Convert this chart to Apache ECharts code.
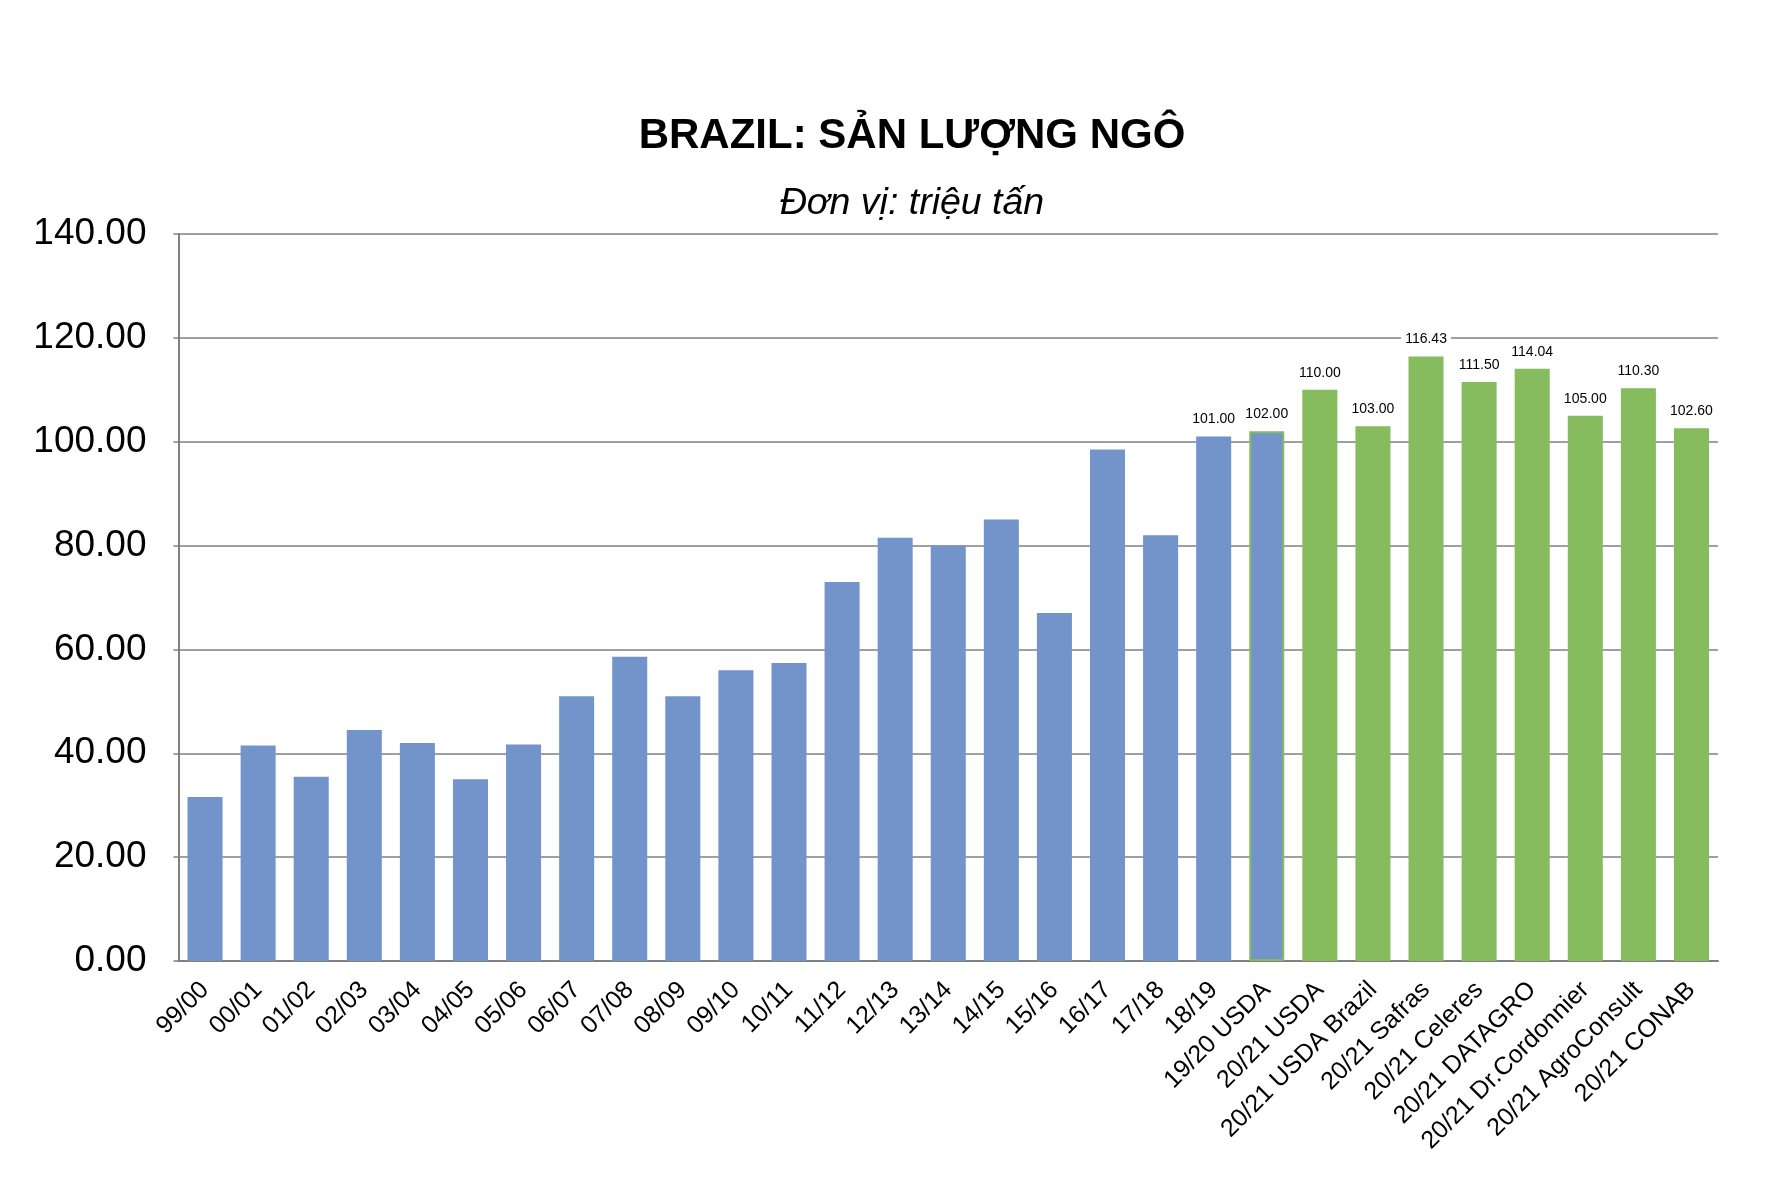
<!DOCTYPE html>
<html>
<head>
<meta charset="utf-8">
<script src="https://cdn.jsdelivr.net/npm/echarts@6/dist/echarts.min.js"></script>
<style>html,body{margin:0;padding:0;background:#fff}#c{width:1771px;height:1181px}</style>
</head>
<body>
<div id="c"></div>
<script>
const categories = ["99/00","00/01","01/02","02/03","03/04","04/05","05/06","06/07","07/08","08/09","09/10","10/11","11/12","12/13","13/14","14/15","15/16","16/17","17/18","18/19","19/20 USDA","20/21 USDA","20/21 USDA Brazil","20/21 Safras","20/21 Celeres","20/21 DATAGRO","20/21 Dr.Cordonnier","20/21 AgroConsult","20/21 CONAB"];
const values = [31.6,41.5,35.5,44.5,42.0,35.0,41.7,51.0,58.6,51.0,56.0,57.4,73.0,81.5,80.0,85.0,67.0,98.5,82.0,101.0,102.0,110.0,103.0,116.43,111.5,114.04,105.0,110.3,102.6];
const groups = ["h","h","h","h","h","h","h","h","h","h","h","h","h","h","h","h","h","h","h","h","u","f","f","f","f","f","f","f","f"];
const labelled = [0,0,0,0,0,0,0,0,0,0,0,0,0,0,0,0,0,0,0,1,1,1,1,1,1,1,1,1,1];
const yTicks = [0,20,40,60,80,100,120,140];

const BLUE = '#7394CB', GREEN = '#86BB5E';
const font = '"Liberation Sans", Arial, sans-serif';

const data = values.map((v, i) => {
  const g = groups[i];
  const item = { value: v, itemStyle: { color: g === 'f' ? GREEN : BLUE } };
  if (g === 'u') { item.itemStyle.borderColor = GREEN; item.itemStyle.borderWidth = 2; }
  item.label = { show: !!labelled[i] };
  return item;
});

const chart = echarts.init(document.getElementById('c'), null, { renderer: 'canvas' });
chart.setOption({
  backgroundColor: '#fff',
  animation: false,
  title: [
    { text: 'BRAZIL: SẢN LƯỢNG NGÔ', left: 907, top: 110, textAlign: 'center',
      textStyle: { fontFamily: font, fontSize: 42, fontWeight: 'bold', color: '#000' } },
    { text: 'Đơn vị: triệu tấn', left: 907, top: 180, textAlign: 'center',
      textStyle: { fontFamily: font, fontSize: 37.5, fontStyle: 'italic', fontWeight: 'normal', color: '#000' } }
  ],
  grid: { left: 178.5, right: 53, top: 234, bottom: 220, containLabel: false },
  xAxis: {
    type: 'category', data: categories,
    axisLine: { lineStyle: { color: '#808080', width: 2 } },
    axisTick: { show: false },
    axisLabel: { rotate: 45, fontFamily: font, fontSize: 25, color: '#000', margin: 25, interval: 0 }
  },
  yAxis: {
    type: 'value', min: yTicks[0], max: yTicks[yTicks.length-1], interval: 20,
    axisLine: { show: true, lineStyle: { color: '#808080', width: 2 } },
    axisTick: { show: true, length: 5, lineStyle: { color: '#808080', width: 1.5 } },
    splitLine: { lineStyle: { color: '#808080', width: 1.5 } },
    axisLabel: { fontFamily: font, fontSize: 37, color: '#000', margin: 32,
      formatter: v => v.toFixed(2) }
  },
  series: [{
    type: 'bar', data: data, barCategoryGap: '34%',
    label: { position: 'top', distance: 9, fontFamily: font, fontSize: 14, color: '#000',
      formatter: p => p.value.toFixed(2), backgroundColor: '#fff', padding: [1, 4] }
  }]
});
</script>
</body>
</html>
